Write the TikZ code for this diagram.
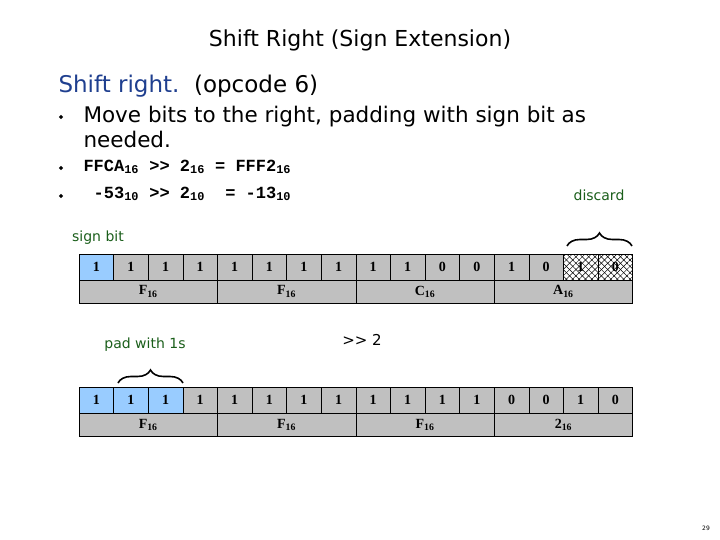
\documentclass[tikz,border=0pt]{standalone}
\usepackage{fontspec}
\setmainfont{DejaVu Sans}
\newfontfamily\codef{Liberation Mono}
\newfontfamily\cellf{Liberation Serif}
\usetikzlibrary{patterns.meta,decorations.pathreplacing,shapes.geometric}
\definecolor{cellgray}{HTML}{C0C0C0}
\definecolor{signblue}{HTML}{99CCFF}
\definecolor{titleblue}{HTML}{1F3F8F}
\definecolor{lblgreen}{HTML}{1A5E1A}
\tikzset{
  cell/.style={draw, fill=cellgray, line width=0.6pt, font=\cellf\bfseries\fontsize{14}{14}\selectfont},
  lbl/.style={text=lblgreen, font=\fontsize{14}{14}\selectfont},
  brc/.style={decorate, decoration={brace, amplitude=13pt}, line width=1.6pt},
  bul/.style={fill, diamond, inner sep=1.1pt}
}
\begin{document}
\begin{tikzpicture}[x=1pt,y=-1pt]
\useasboundingbox (0,0) rectangle (720,540);
\node (title) at (360,40) {\fontsize{22}{22}\selectfont Shift Right (Sign Extension)};
\node[anchor=west] (h) at (55,86) {\fontsize{23}{23}\selectfont\textcolor{titleblue}{Shift right.}\ \ (opcode 6)};
\node[bul] (b1) at (61,117) {};
\node[bul] (b2) at (61,168) {};
\node[bul] (b3) at (61,196) {};
\node[anchor=west, align=left, font=\fontsize{21.5}{25}\selectfont] (t1) at (80,127) {Move bits to the right, padding with sign bit as\\needed.};
\node[anchor=west] (t2) at (80,167) {\codef\bfseries\fontsize{17}{17}\selectfont FFCA\textsubscript{16} {>}{>} 2\textsubscript{16} = FFF2\textsubscript{16}};
\node[anchor=west] (t3) at (80,194) {\codef\bfseries\fontsize{17}{17}\selectfont\ -53\textsubscript{10} {>}{>} 2\textsubscript{10}\ \ = -13\textsubscript{10}};
\node[lbl] (disc) at (599,195) {discard};
\node[lbl] (sb) at (98,238) {sign bit};
\node[lbl] (pad) at (145,345) {pad with 1s};
\node (sh) at (362,340) {\fontsize{15}{15}\selectfont {>}{>} 2};
\node (pg) at (706,528) {\fontsize{6}{6}\selectfont 29};
% top row
\foreach \b [count=\i from 0] in {1,1,1,1,1,1,1,1,1,1,0,0,1,0,1,0}{
  \pgfmathsetmacro\xa{79+34.6*\i}
  \ifnum\i=0
    \node[cell, fill=signblue, minimum width=34.6pt, minimum height=26pt, inner sep=0pt] (a\i) at (\xa+17.3,267) {\b};
  \else\ifnum\i>13
    \node[cell, fill=white, minimum width=34.6pt, minimum height=26pt, inner sep=0pt] (a\i) at (\xa+17.3,267) {};
    \fill[pattern={Lines[angle=45,distance=4.5pt,line width=0.5pt]}] (\xa,254) rectangle (\xa+34.6,280);
    \fill[pattern={Lines[angle=-45,distance=4.5pt,line width=0.5pt]}] (\xa,254) rectangle (\xa+34.6,280);
    \node[draw, minimum width=34.6pt, minimum height=26pt, inner sep=0pt, font=\cellf\bfseries\fontsize{14}{14}\selectfont, line width=0.6pt] at (\xa+17.3,267) {\b};
  \else
    \node[cell, minimum width=34.6pt, minimum height=26pt, inner sep=0pt] (a\i) at (\xa+17.3,267) {\b};
  \fi\fi
}
\foreach \h [count=\i from 0] in {F,F,C,A}{
  \pgfmathsetmacro\xa{79+138.4*\i}
  \node[cell, minimum width=138.4pt, minimum height=23pt, inner sep=0pt] (ah\i) at (\xa+69.2,291.5) {\h\textsubscript{16}};
}
% bottom row
\foreach \b [count=\i from 0] in {1,1,1,1,1,1,1,1,1,1,1,1,0,0,1,0}{
  \pgfmathsetmacro\xa{79+34.6*\i}
  \ifnum\i<3
    \node[cell, fill=signblue, minimum width=34.6pt, minimum height=26pt, inner sep=0pt] (c\i) at (\xa+17.3,400) {\b};
  \else
    \node[cell, minimum width=34.6pt, minimum height=26pt, inner sep=0pt] (c\i) at (\xa+17.3,400) {\b};
  \fi
}
\foreach \h [count=\i from 0] in {F,F,F,2}{
  \pgfmathsetmacro\xa{79+138.4*\i}
  \node[cell, minimum width=138.4pt, minimum height=23pt, inner sep=0pt] (ch\i) at (\xa+69.2,425) {\h\textsubscript{16}};
}
% braces
\coordinate (d1) at (567,246);
\coordinate (d2) at (632,246);
\draw[brc] (d1) -- (d2);
\coordinate (p1) at (118,383);
\coordinate (p2) at (183,383);
\draw[brc] (p1) -- (p2);
\end{tikzpicture}
\end{document}
